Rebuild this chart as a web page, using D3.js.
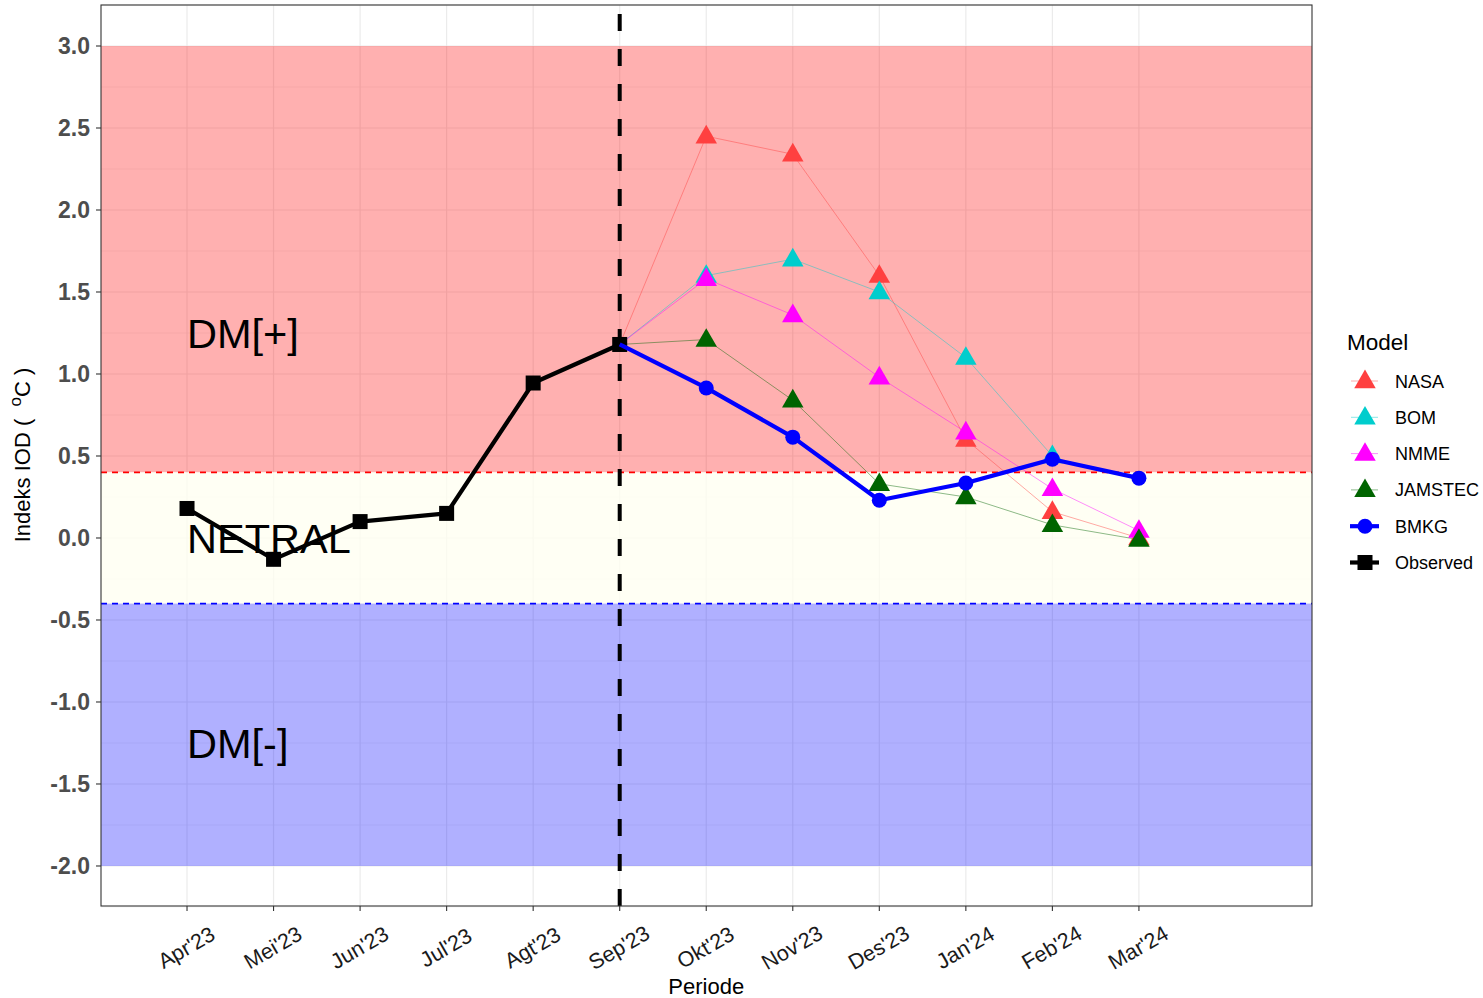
<!DOCTYPE html>
<html>
<head>
<meta charset="utf-8">
<script src="https://cdn.jsdelivr.net/npm/d3@7"></script>
<style>
  body { margin: 0; background: #fff; }
  text { font-family: "Liberation Sans", Arial, sans-serif; }
</style>
</head>
<body>
<svg id="chart" width="1483" height="998"></svg>
<script>
const months = ["Apr'23", "Mei'23", "Jun'23", "Jul'23", "Agt'23", "Sep'23",
  "Okt'23", "Nov'23", "Des'23", "Jan'24", "Feb'24", "Mar'24"];
const observed = [0.18, -0.13, 0.10, 0.15, 0.945, 1.18];
const forecastMonths = ["Sep'23", "Okt'23", "Nov'23", "Des'23", "Jan'24", "Feb'24", "Mar'24"];
const nasa = [1.18, 2.45, 2.34, 1.60, 0.60, 0.16, 0.0];
const bom = [1.18, 1.60, 1.70, 1.50, 1.10, 0.50];
const nmme = [1.18, 1.58, 1.36, 0.98, 0.645, 0.30, 0.045];
const jamstec = [1.18, 1.21, 0.84, 0.33, 0.25, 0.08, -0.01];
const bmkg = [1.18, 0.915, 0.615, 0.23, 0.335, 0.48, 0.365];
const yTicks = [3.0, 2.5, 2.0, 1.5, 1.0, 0.5, 0.0, -0.5, -1.0, -1.5, -2.0];
const zones = [
  { lo: 0.4, hi: 3.0, fill: "#ff0000", op: 0.31 },
  { lo: -0.4, hi: 0.4, fill: "#fffff0", op: 0.75 },
  { lo: -2.0, hi: -0.4, fill: "#0000ff", op: 0.31 }
];
const zoneLabels = [
  { text: "DM[+]", v: 1.25 },
  { text: "NETRAL", v: 0.0 },
  { text: "DM[-]", v: -1.25 }
];

const models = [
  { name: "NASA", values: nasa, color: "#ff4040", kind: "tri" },
  { name: "BOM", values: bom, color: "#00cdcd", kind: "tri" },
  { name: "NMME", values: nmme, color: "#ff00ff", kind: "tri" },
  { name: "JAMSTEC", values: jamstec, color: "#006400", kind: "tri" },
  { name: "BMKG", values: bmkg, color: "#0000ff", kind: "circle" },
  { name: "Observed", values: observed, color: "#000000", kind: "square" }
];

const svg = d3.select("#chart");
const pL = 101, pR = 1312, pT = 5, pB = 906;

const x = d3.scaleLinear().domain([-0.994, 13]).range([pL, pR]);
const y = d3.scaleLinear().domain([-2.244, 3.25]).range([pB, pT]);
const xi = m => x(months.indexOf(m));

const g = svg.append("g");

// grid
g.selectAll(".minor").data(d3.range(-2.25, 3.26, 0.25).filter(v => Math.abs(v * 2 - Math.round(v * 2)) > 0.01))
  .join("line").attr("x1", pL).attr("x2", pR)
  .attr("y1", d => y(d)).attr("y2", d => y(d))
  .attr("stroke", "#ebebeb").attr("stroke-width", 0.6);
g.selectAll(".major").data(yTicks).join("line")
  .attr("x1", pL).attr("x2", pR)
  .attr("y1", d => y(d)).attr("y2", d => y(d))
  .attr("stroke", "#ebebeb").attr("stroke-width", 1.2);
g.selectAll(".vgrid").data(months).join("line")
  .attr("x1", d => xi(d)).attr("x2", d => xi(d))
  .attr("y1", pT).attr("y2", pB)
  .attr("stroke", "#ebebeb").attr("stroke-width", 1.2);

// zones
g.selectAll(".zone").data(zones).join("rect")
  .attr("x", pL).attr("width", pR - pL)
  .attr("y", d => y(d.hi)).attr("height", d => y(d.lo) - y(d.hi))
  .attr("fill", d => d.fill).attr("fill-opacity", d => d.op);

// threshold lines
g.append("line").attr("x1", pL).attr("x2", pR)
  .attr("y1", y(0.4)).attr("y2", y(0.4))
  .attr("stroke", "#ff0000").attr("stroke-width", 1.6).attr("stroke-dasharray", "6,5");
g.append("line").attr("x1", pL).attr("x2", pR)
  .attr("y1", y(-0.4)).attr("y2", y(-0.4))
  .attr("stroke", "#0000ff").attr("stroke-width", 1.6).attr("stroke-dasharray", "6,5");

// Sep'23 divider
g.append("line").attr("x1", xi("Sep'23")).attr("x2", xi("Sep'23"))
  .attr("y1", pB).attr("y2", pT)
  .attr("stroke", "#000").attr("stroke-width", 4).attr("stroke-dasharray", "17,18");

// zone labels
g.selectAll(".zl").data(zoneLabels).join("text")
  .attr("x", x(0)).attr("y", d => y(d.v) + 15)
  .attr("font-size", 41.5).attr("fill", "#000")
  .text(d => d.text);

const tri = d3.symbol().type(d3.symbolTriangle).size(200);
const line = d3.line().x(d => d[0]).y(d => d[1]);

function pts(m) {
  const ms = m.name === "Observed" ? months.slice(0, observed.length) : forecastMonths;
  return m.values.map((v, i) => [xi(ms[i]), y(v)]);
}

// thin model lines
models.filter(m => m.kind === "tri").forEach(m => {
  g.append("path").attr("d", line(pts(m))).attr("fill", "none")
    .attr("stroke", m.color).attr("stroke-opacity", 0.45).attr("stroke-width", 1);
});
models.filter(m => m.kind === "tri").forEach(m => {
  g.selectAll(null).data(pts(m).slice(1)).join("path")
    .attr("d", tri).attr("transform", d => `translate(${d[0]},${d[1] + 1})`)
    .attr("fill", m.color);
});

// observed
const obs = models.find(m => m.name === "Observed");
g.append("path").attr("d", line(pts(obs))).attr("fill", "none")
  .attr("stroke", "#000").attr("stroke-width", 4.2).attr("stroke-linejoin", "round");
g.selectAll(".sq").data(pts(obs)).join("rect")
  .attr("x", d => d[0] - 7.5).attr("y", d => d[1] - 7.5)
  .attr("width", 15).attr("height", 15).attr("fill", "#000");

// BMKG
const bm = models.find(m => m.name === "BMKG");
g.append("path").attr("d", line(pts(bm))).attr("fill", "none")
  .attr("stroke", "#0000ff").attr("stroke-width", 4.2).attr("stroke-linejoin", "round");
g.selectAll(".ci").data(pts(bm).slice(1)).join("circle")
  .attr("cx", d => d[0]).attr("cy", d => d[1]).attr("r", 7.5).attr("fill", "#0000ff");

// panel border
g.append("rect").attr("x", pL).attr("y", pT)
  .attr("width", pR - pL).attr("height", pB - pT)
  .attr("fill", "none").attr("stroke", "#333").attr("stroke-width", 1.1);

// y axis
const ya = g.append("g");
ya.selectAll("line").data(yTicks).join("line")
  .attr("x1", pL - 5).attr("x2", pL)
  .attr("y1", d => y(d)).attr("y2", d => y(d))
  .attr("stroke", "#333").attr("stroke-width", 1.1);
ya.selectAll("text").data(yTicks).join("text")
  .attr("x", pL - 11).attr("y", d => y(d) + 8.3)
  .attr("text-anchor", "end").attr("font-size", 23).attr("font-weight", "bold")
  .attr("fill", "#4d4d4d").text(d => d.toFixed(1));

// x axis
const xa = g.append("g");
xa.selectAll("line").data(months).join("line")
  .attr("x1", d => xi(d)).attr("x2", d => xi(d))
  .attr("y1", pB).attr("y2", pB + 5)
  .attr("stroke", "#333").attr("stroke-width", 1.1);
xa.selectAll("text").data(months).join("text")
  .attr("transform", d => `translate(${xi(d) + 3},${pB + 48}) rotate(-30)`)
  .attr("text-anchor", "middle").attr("font-size", 21.5).attr("fill", "#1a1a1a")
  .text(d => d);

svg.append("text").attr("x", x(6)).attr("y", 994)
  .attr("text-anchor", "middle").attr("font-size", 22).attr("fill", "#000").text("Periode");

const yt = svg.append("text").attr("transform", `translate(30,455) rotate(-90)`)
  .attr("text-anchor", "middle").attr("font-size", 22).attr("fill", "#000")
  .attr("xml:space", "preserve");
yt.append("tspan").text("Indeks IOD (  ");
yt.append("tspan").attr("dy", -9).attr("font-size", 17).text("o");
yt.append("tspan").attr("dy", 9).text("C )");

// legend
const lg = svg.append("g").attr("transform", "translate(1347,0)");
lg.append("text").attr("x", 0).attr("y", 350).attr("font-size", 22.5).attr("fill", "#000").text("Model");
models.forEach((m, i) => {
  const cy = 381 + i * 36.3;
  const k = lg.append("g");
  if (m.kind === "tri") {
    k.append("line").attr("x1", 4).attr("x2", 31).attr("y1", cy).attr("y2", cy)
      .attr("stroke", m.color).attr("stroke-opacity", 0.45).attr("stroke-width", 1);
    k.append("path").attr("d", tri).attr("transform", `translate(18,${cy + 1})`).attr("fill", m.color);
  } else {
    k.append("line").attr("x1", 3).attr("x2", 32).attr("y1", cy).attr("y2", cy)
      .attr("stroke", m.color).attr("stroke-width", 4.2);
    if (m.kind === "circle") {
      k.append("circle").attr("cx", 18).attr("cy", cy).attr("r", 7.5).attr("fill", m.color);
    } else {
      k.append("rect").attr("x", 10.5).attr("y", cy - 7.5).attr("width", 15).attr("height", 15).attr("fill", m.color);
    }
  }
  lg.append("text").attr("x", 48).attr("y", cy + 6.5).attr("font-size", 18).attr("fill", "#000").text(m.name);
});
</script>
</body>
</html>
